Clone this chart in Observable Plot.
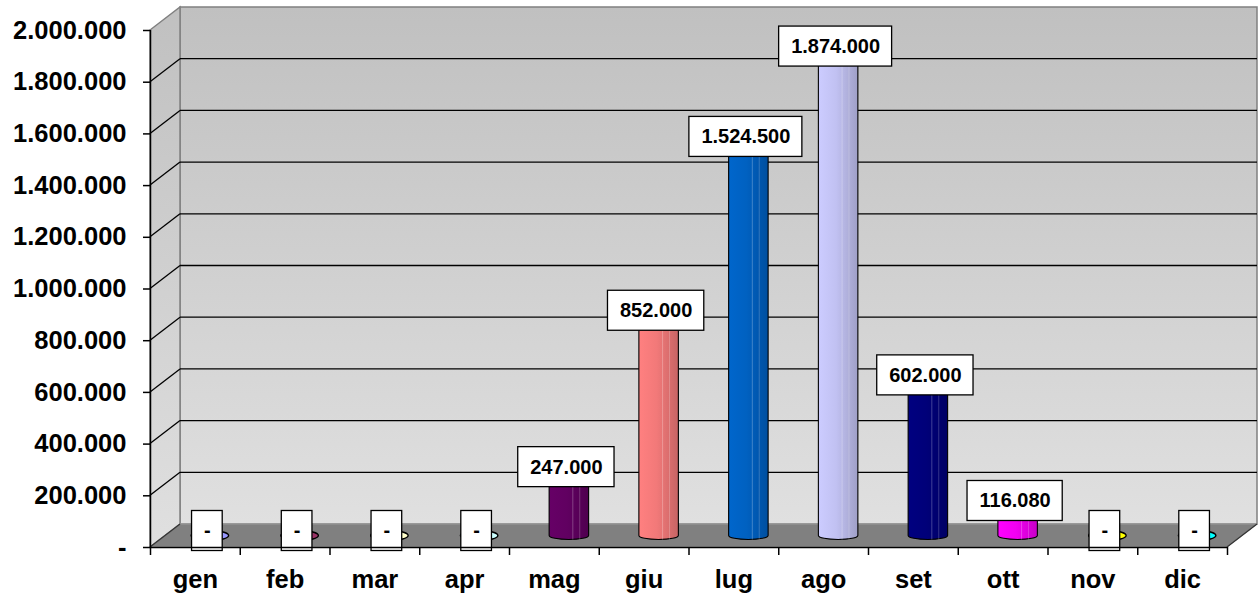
<!DOCTYPE html>
<html>
<head>
<meta charset="utf-8">
<script src="https://cdn.jsdelivr.net/npm/d3@7"></script>
<script src="https://cdn.jsdelivr.net/npm/@observablehq/plot@0.6"></script>
<style>
  html, body { margin: 0; padding: 0; background: white; }
</style>
</head>
<body>
<div id="chart"></div>
<script>
// ---- data ----
const months = ["gen","feb","mar","apr","mag","giu","lug","ago","set","ott","nov","dic"];
const values = [0, 0, 0, 0, 247000, 852000, 1524500, 1874000, 602000, 116080, 0, 0];
const colors = ["#9999FF","#993366","#FFFFCC","#CCFFFF","#660066","#FF8080","#0066CC","#CCCCFF","#000080","#FF00FF","#FFFF00","#00FFFF"];
const yTicks = [0, 200000, 400000, 600000, 800000, 1000000, 1200000, 1400000, 1600000, 1800000, 2000000];

const itLocale = d3.formatLocale({decimal: ",", thousands: ".", grouping: [3], currency: ["€", ""]});
const fmtNum = itLocale.format(",.0f");
const fmt = v => v === 0 ? "-" : fmtNum(v);

const data = months.map((m, i) => ({month: m, pos: i + 0.5, value: values[i], color: colors[i], label: fmt(values[i])}));

// ---- 3D depth (pixels) ----
const DX = 30, DY = -23;          // back wall offset
const MX = DX / 2, MY = DY / 2;   // mid-depth (bars)
const NS = "http://www.w3.org/2000/svg";
const FONT = "Arial, 'Liberation Sans', sans-serif";

function el(tag, attrs) {
  const e = document.createElementNS(NS, tag);
  for (const k in attrs) e.setAttribute(k, attrs[k]);
  return e;
}
const pts = a => a.map(p => p.join(",")).join(" ");

// walls, floor and gridlines
function walls(index, scales) {
  const x = scales.x, y = scales.y;
  const g = el("g", {});
  const defs = el("defs", {});
  const grad = el("linearGradient", {id: "wallGrad", x1: 0, y1: 0, x2: 0, y2: 1});
  grad.appendChild(el("stop", {offset: "0%", "stop-color": "#c0c0c0"}));
  grad.appendChild(el("stop", {offset: "100%", "stop-color": "#e0e0e0"}));
  defs.appendChild(grad);
  g.appendChild(defs);
  const x0 = x(0), x1 = x(12), y0 = y(0), yT = y(2000000);
  g.appendChild(el("polygon", {points: pts([[x0 + DX, yT + DY], [x1 + DX, yT + DY], [x1 + DX, y0 + DY], [x0 + DX, y0 + DY]]),
    fill: "url(#wallGrad)", stroke: "#808080", "stroke-width": 1.5}));
  g.appendChild(el("polygon", {points: pts([[x0, y0], [x0 + DX, y0 + DY], [x0 + DX, yT + DY], [x0, yT]]),
    fill: "url(#wallGrad)", stroke: "#808080", "stroke-width": 1.5}));
  for (const v of yTicks.slice(1, -1)) {
    const yy = y(v);
    g.appendChild(el("line", {x1: x0 + DX, x2: x1 + DX, y1: yy + DY, y2: yy + DY, stroke: "black", "stroke-width": 1.3}));
    g.appendChild(el("line", {x1: x0, x2: x0 + DX, y1: yy, y2: yy + DY, stroke: "black", "stroke-width": 1.3}));
  }
  g.appendChild(el("polygon", {points: pts([[x0, y0], [x1, y0], [x1 + DX, y0 + DY], [x0 + DX, y0 + DY]]),
    fill: "#808080", stroke: "#9a9a9a", "stroke-width": 1}));
  g.appendChild(el("line", {x1: x0, y1: y0, x2: x0 + DX, y2: y0 + DY, stroke: "#333", "stroke-width": 1.3}));
  g.appendChild(el("line", {x1: x1, y1: y0, x2: x1 + DX, y2: y0 + DY, stroke: "#333", "stroke-width": 1.3}));
  return g;
}

// cylinders
function cylinders(index, scales) {
  const x = scales.x, y = scales.y;
  const g = el("g", {});
  const defs = el("defs", {});
  g.appendChild(defs);
  data.forEach((d, i) => {
    const c = d3.color(d.color);
    const gr = el("linearGradient", {id: "cyl" + i, x1: 0, y1: 0, x2: 1, y2: 0});
    gr.appendChild(el("stop", {offset: "0%", "stop-color": c.formatHex()}));
    gr.appendChild(el("stop", {offset: "45%", "stop-color": c.darker(0.15).formatHex()}));
    gr.appendChild(el("stop", {offset: "72%", "stop-color": c.darker(0.4).formatHex()}));
    gr.appendChild(el("stop", {offset: "100%", "stop-color": c.darker(0.7).formatHex()}));
    defs.appendChild(gr);
    const xl = x(d.pos - 0.22) + MX, xr = x(d.pos + 0.22) + MX;
    const w = (xr - xl) / 2, ry = 4;
    const yb = y(0) + MY, yt = y(d.value) + MY;
    if (d.value > 0) {
      g.appendChild(el("path", {
        d: `M${xl},${yt} L${xl},${yb} A${w},${ry} 0 0 0 ${xr},${yb} L${xr},${yt} Z`,
        fill: `url(#cyl${i})`, stroke: "black", "stroke-width": 1.1}));
      g.appendChild(el("line", {x1: xl + w * 1.2, x2: xl + w * 1.2, y1: yt, y2: yb + ry, stroke: "white", "stroke-opacity": 0.25}));
      g.appendChild(el("line", {x1: xl + w * 1.55, x2: xl + w * 1.55, y1: yt, y2: yb + ry, stroke: "white", "stroke-opacity": 0.2}));
    } else {
      g.appendChild(el("ellipse", {cx: (xl + xr) / 2, cy: yb, rx: w * 0.95, ry: 5, fill: d.color, stroke: "black", "stroke-width": 1.4}));
    }
  });
  return g;
}

// label boxes
const canvas = document.createElement("canvas");
const ctx2 = canvas.getContext("2d");
ctx2.font = "bold 20px Arial, 'Liberation Sans', sans-serif";
const LDX = 12, LDY = -16.5;
function labelBoxes(index, scales) {
  const x = scales.x, y = scales.y;
  const g = el("g", {});
  data.forEach(d => {
    const w = ctx2.measureText(d.label).width + 24, h = 40;
    const cx = x(d.pos) + LDX, cy = y(d.value) + LDY;
    g.appendChild(el("rect", {x: cx - w / 2, y: cy - h / 2, width: w, height: h, fill: "white", stroke: "black", "stroke-width": 1.3}));
  });
  return g;
}

const chart = Plot.plot({
  width: 1259,
  height: 598,
  marginLeft: 150,
  marginRight: 32,
  marginTop: 30,
  marginBottom: 51,
  style: {fontFamily: FONT, color: "black", background: "white", overflow: "visible"},
  x: {domain: [0, 12], axis: null},
  y: {domain: [0, 2000000], axis: null},
  marks: [
    walls,
    cylinders,
    labelBoxes,
    Plot.text(data, {x: "pos", y: "value", text: "label", dx: LDX, dy: LDY, fontSize: 20, fontWeight: "bold", fill: "black"}),
    Plot.ruleX([0], {y1: 0, y2: 2000000, stroke: "black", strokeWidth: 1.5}),
    Plot.ruleY([0], {x1: 0, x2: 12, stroke: "black", strokeWidth: 1.5}),
    Plot.axisY(yTicks, {tickSize: 7, tickPadding: 17, tickFormat: fmt, fontSize: 25.5, fontWeight: "bold", stroke: "black", strokeWidth: 1.5, label: null}),
    Plot.axisX(d3.range(13), {tickSize: 8, tickFormat: () => "", stroke: "black", strokeWidth: 1.5, label: null}),
    Plot.axisX(data.map(d => d.pos), {tickSize: 0, tickPadding: 22, tickFormat: d => months[Math.floor(d)], fontSize: 25.5, fontWeight: "bold", label: null})
  ]
});
document.getElementById("chart").appendChild(chart);
</script>
</body>
</html>
